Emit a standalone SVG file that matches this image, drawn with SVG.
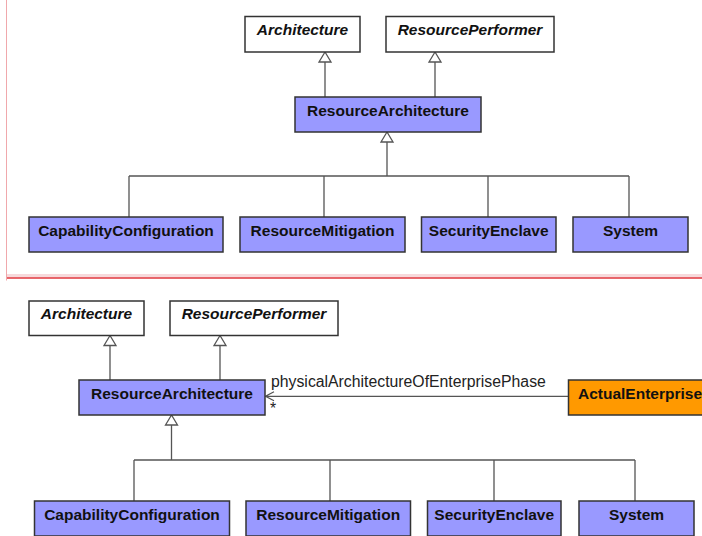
<svg xmlns="http://www.w3.org/2000/svg" width="702" height="536" viewBox="0 0 702 536">
<defs>
<style>
.box{stroke:#333;stroke-width:1.5}
.abs{fill:#fff}
.blue{fill:#9999ff}
.orange{fill:#ff9900}
.t{font-family:"Liberation Sans",Arial,sans-serif;font-size:15.5px;font-weight:bold;fill:#111;text-anchor:middle}
.i{font-style:italic}
.lbl{font-family:"Liberation Sans",Arial,sans-serif;font-size:15.8px;fill:#222}
.c{fill:none;stroke:#555;stroke-width:1.3}
.tri{fill:#fff;stroke:#555;stroke-width:1.3}
</style>
</defs>
<rect x="0" y="0" width="702" height="536" fill="#fff"/>
<!-- frame -->
<rect x="7" y="274" width="695" height="3.5" fill="#f7d9db"/>
<line x1="6.5" y1="0" x2="6.5" y2="280.5" stroke="#f0a8ac" stroke-width="1"/>
<line x1="7" y1="278" x2="702" y2="278" stroke="#e0363c" stroke-width="1.5"/>

<g id="connectors">
<!-- top -->
<path class="c" d="M325,97V62M435,97V62M387,142V176M129,176H629M129,176V217M324,176V217M488,176V217M629,176V217"/>
<path class="tri" d="M325,52L319,62H331Z"/>
<path class="tri" d="M435,52L429,62H441Z"/>
<path class="tri" d="M387,132L381,142H393Z"/>
<!-- bottom -->
<path class="c" d="M110,380V345.5M220,380V345.5M171.5,425V460M134,460H635M134,460V501M330,460V501M494,460V501M635,460V501"/>
<path class="tri" d="M110,335.5L104,345.5H116Z"/>
<path class="tri" d="M220,335.5L214,345.5H226Z"/>
<path class="tri" d="M171.5,415L165.5,425H177.5Z"/>
<path class="c" d="M568,396.3H265.5M274,391.8L265.5,396.3L274,400.8"/>
<text class="lbl" x="271" y="387">physicalArchitectureOfEnterprisePhase</text>
<text class="lbl" x="270" y="414">*</text>
</g>

<g id="top-architecture"><rect class="box abs" x="245" y="16.5" width="115" height="35.5"/><text class="t i" x="302.5" y="35">Architecture</text></g>
<g id="top-resourceperformer"><rect class="box abs" x="386" y="16.5" width="168" height="35.5"/><text class="t i" x="470" y="35">ResourcePerformer</text></g>
<g id="top-resourcearchitecture"><rect class="box blue" x="295" y="97" width="186" height="35"/><text class="t" x="388" y="115.5">ResourceArchitecture</text></g>
<g id="top-capabilityconfiguration"><rect class="box blue" x="29" y="217" width="194" height="35"/><text class="t" x="126" y="235.5">CapabilityConfiguration</text></g>
<g id="top-resourcemitigation"><rect class="box blue" x="240" y="217" width="165" height="35"/><text class="t" x="322.5" y="235.5">ResourceMitigation</text></g>
<g id="top-securityenclave"><rect class="box blue" x="421.5" y="217" width="134.5" height="35"/><text class="t" x="488.7" y="235.5">SecurityEnclave</text></g>
<g id="top-system"><rect class="box blue" x="573" y="217" width="115" height="35"/><text class="t" x="630.5" y="235.5">System</text></g>

<g id="architecture"><rect class="box abs" x="29" y="301" width="115" height="34.5"/><text class="t i" x="86.5" y="319">Architecture</text></g>
<g id="resourceperformer"><rect class="box abs" x="170" y="301" width="168" height="34.5"/><text class="t i" x="254" y="319">ResourcePerformer</text></g>
<g id="resourcearchitecture"><rect class="box blue" x="79" y="380" width="186" height="35"/><text class="t" x="172" y="398.5">ResourceArchitecture</text></g>
<g id="actualenterprise"><rect class="box orange" x="568.5" y="380" width="150" height="35"/><text class="t" x="578" y="398.5" style="text-anchor:start">ActualEnterprise</text></g>
<g id="capabilityconfiguration"><rect class="box blue" x="34.5" y="501" width="195" height="35"/><text class="t" x="132" y="520">CapabilityConfiguration</text></g>
<g id="resourcemitigation"><rect class="box blue" x="246" y="501" width="164.5" height="35"/><text class="t" x="328.2" y="520">ResourceMitigation</text></g>
<g id="securityenclave"><rect class="box blue" x="427.5" y="501" width="133.5" height="35"/><text class="t" x="494.2" y="520">SecurityEnclave</text></g>
<g id="system"><rect class="box blue" x="579" y="501" width="115" height="35"/><text class="t" x="636.5" y="520">System</text></g>
</svg>
